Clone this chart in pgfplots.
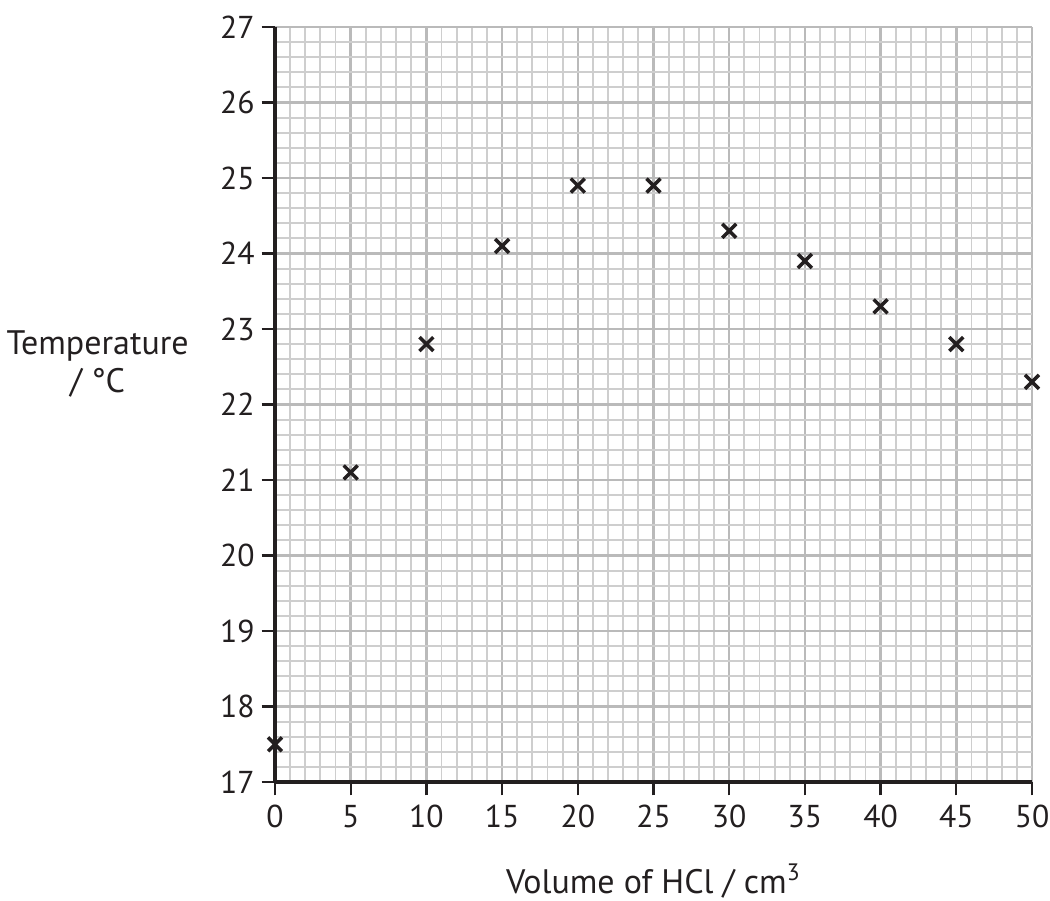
\documentclass[border=0pt]{standalone}
\usepackage{pgfplots}
\pgfplotsset{compat=1.18}
\usepackage{fontspec}
\setmainfont{PT Sans}
\usetikzlibrary{calc}
\definecolor{majorgrid}{RGB}{186,186,186}
\definecolor{minorgrid}{RGB}{206,206,206}
\definecolor{ink}{RGB}{35,31,32}

\begin{document}
\begin{tikzpicture}
\begin{axis}[
  name=ax,
  scale only axis,
  width=11.355cm, height=11.325cm,
  xmin=0, xmax=50, ymin=17, ymax=27,
  xtick={0,5,...,50}, ytick={17,18,...,27},
  minor x tick num=4, minor y tick num=4,
  grid=both,
  major grid style={majorgrid, line width=1.1pt},
  minor grid style={minorgrid, line width=0.8pt},
  axis x line*=bottom, axis y line*=left,
  axis line style={-, ink, line width=1.7pt},
  tick align=outside,
  major tick length=0.2cm, minor tick length=0pt,
  major tick style={ink, line width=1pt},
  tick label style={font=\fontsize{13.5}{15}\selectfont, text=ink},
  /pgf/number format/assume math mode=true,
  xticklabel style={yshift=-0.02cm},
  yticklabel style={xshift=0.02cm},
  xlabel={Volume of HCl / cm\textsuperscript{3}},
  xlabel style={at={(rel axis cs:0.5,0)}, anchor=base, yshift=-1.665cm,
    font=\fontsize{14.5}{16.2}\selectfont, text=ink},
  ylabel={Temperature\\/ °C},
  ylabel style={at={(rel axis cs:0,0.554)}, anchor=center, rotate=-90,
    xshift=-2.66cm, align=center, font=\fontsize{14.5}{16.2}\selectfont, text=ink},
  clip=false,
]
\addplot[only marks, mark=x, mark size=4.2pt, ink, mark options={line width=1.5pt}] coordinates {
  (0,17.5) (5,21.1) (10,22.8) (15,24.1) (20,24.9) (25,24.9)
  (30,24.3) (35,23.9) (40,23.3) (45,22.8) (50,22.3)
};
\end{axis}
\pgfresetboundingbox
\path ($(ax.south west)+(-4.125cm,-1.77cm)$) rectangle ($(ax.north east)+(0.27cm,0.405cm)$);
\end{tikzpicture}
\end{document}
